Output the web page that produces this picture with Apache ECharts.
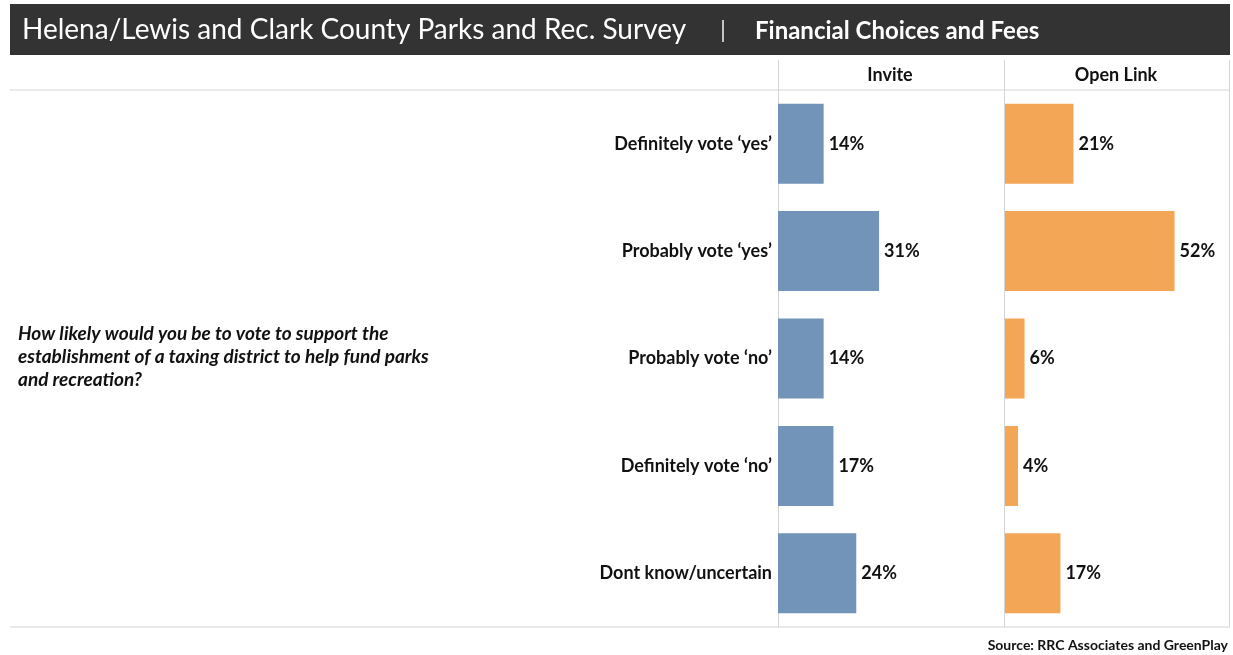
<!DOCTYPE html>
<html>
<head>
<meta charset="utf-8">
<script src="https://cdn.jsdelivr.net/npm/echarts@6/dist/echarts.min.js"></script>
<style>
html,body{margin:0;padding:0;background:#fff;}
#chart{width:1233px;height:655px;}
</style>
</head>
<body>
<div id="chart"></div>
<script>
const categories = ["Definitely vote \u2018yes\u2019", "Probably vote \u2018yes\u2019", "Probably vote \u2018no\u2019", "Definitely vote \u2018no\u2019", "Dont know/uncertain"];
const inviteValues = [14, 31, 14, 17, 24];
const openLinkValues = [21, 52, 6, 4, 17];
const columnNames = ["Invite", "Open Link"];
const titleMain = "Helena/Lewis and Clark County Parks and Rec. Survey";
const titleSub = "Financial Choices and Fees";
const question = "How likely would you be to vote to support the\nestablishment of a taxing district to help fund parks\nand recreation?";
const sourceText = "Source: RRC Associates and GreenPlay";

const FONT = 'Lato, "Noto Sans", sans-serif';
const chart = echarts.init(document.getElementById('chart'), null, {renderer: 'canvas'});
const gridLine = '#d4d4d4';
const panelW = 225;
const xMax = 69;

function line(x1,y1,x2,y2){
  return {type:'line', shape:{x1,y1,x2,y2}, style:{stroke:gridLine, lineWidth:1}, silent:true};
}

chart.setOption({
  animation: false,
  textStyle: {fontFamily: FONT},
  grid: [
    {left: 778, top: 90, width: panelW, height: 537},
    {left: 1005, top: 90, width: panelW, height: 537}
  ],
  xAxis: [
    {gridIndex:0, type:'value', min:0, max:xMax, show:false},
    {gridIndex:1, type:'value', min:0, max:xMax, show:false}
  ],
  yAxis: [
    {gridIndex:0, type:'category', data:categories, inverse:true,
     axisLine:{show:false}, axisTick:{show:false}, splitLine:{show:false},
     axisLabel:{fontFamily:FONT, fontWeight:'bold', fontSize:18, color:'#111', margin:6}},
    {gridIndex:1, type:'category', data:categories, inverse:true, show:false}
  ],
  series: [
    {type:'bar', xAxisIndex:0, yAxisIndex:0, data:inviteValues, barWidth:80,
     itemStyle:{color:'#7294b9'},
     label:{show:true, position:'right', distance:5, formatter:p=>p.value+'%',
            fontFamily:FONT, fontWeight:'bold', fontSize:18, color:'#111'}},
    {type:'bar', xAxisIndex:1, yAxisIndex:1, data:openLinkValues, barWidth:80,
     itemStyle:{color:'#f4a657'},
     label:{show:true, position:'right', distance:5, formatter:p=>p.value+'%',
            fontFamily:FONT, fontWeight:'bold', fontSize:18, color:'#111'}}
  ],
  graphic: [
    {type:'rect', shape:{x:10, y:4, width:1220, height:51}, style:{fill:'#333333'}, silent:true, z:-1},
    {type:'text', x:22, y:30, style:{text:titleMain, fill:'#fff', font:'28px '+FONT, textVerticalAlign:'middle'}},
    {type:'text', x:720, y:30, style:{text:'|', fill:'#ddd', font:'24px '+FONT, textVerticalAlign:'middle'}},
    {type:'text', x:755, y:31, style:{text:titleSub, fill:'#fff', font:'bold 24px '+FONT, textVerticalAlign:'middle'}},
    line(10,90,1230,90),
    line(10,627,1230,627),
    line(778.5,60,778.5,627),
    line(1004.5,60,1004.5,627),
    line(1229.5,60,1229.5,627),
    {type:'text', x:890, y:75, style:{text:columnNames[0], fill:'#111', font:'bold 18px '+FONT, textAlign:'center', textVerticalAlign:'middle'}},
    {type:'text', x:1116, y:75, style:{text:columnNames[1], fill:'#111', font:'bold 18px '+FONT, textAlign:'center', textVerticalAlign:'middle'}},
    {type:'text', x:18, y:322, style:{text:question, fill:'#111', font:'italic bold 19px '+FONT, lineHeight:23}},
    {type:'text', x:1228, y:645, style:{text:sourceText, fill:'#111', font:'bold 14px '+FONT, textAlign:'right', textVerticalAlign:'middle'}}
  ]
});
</script>
</body>
</html>
